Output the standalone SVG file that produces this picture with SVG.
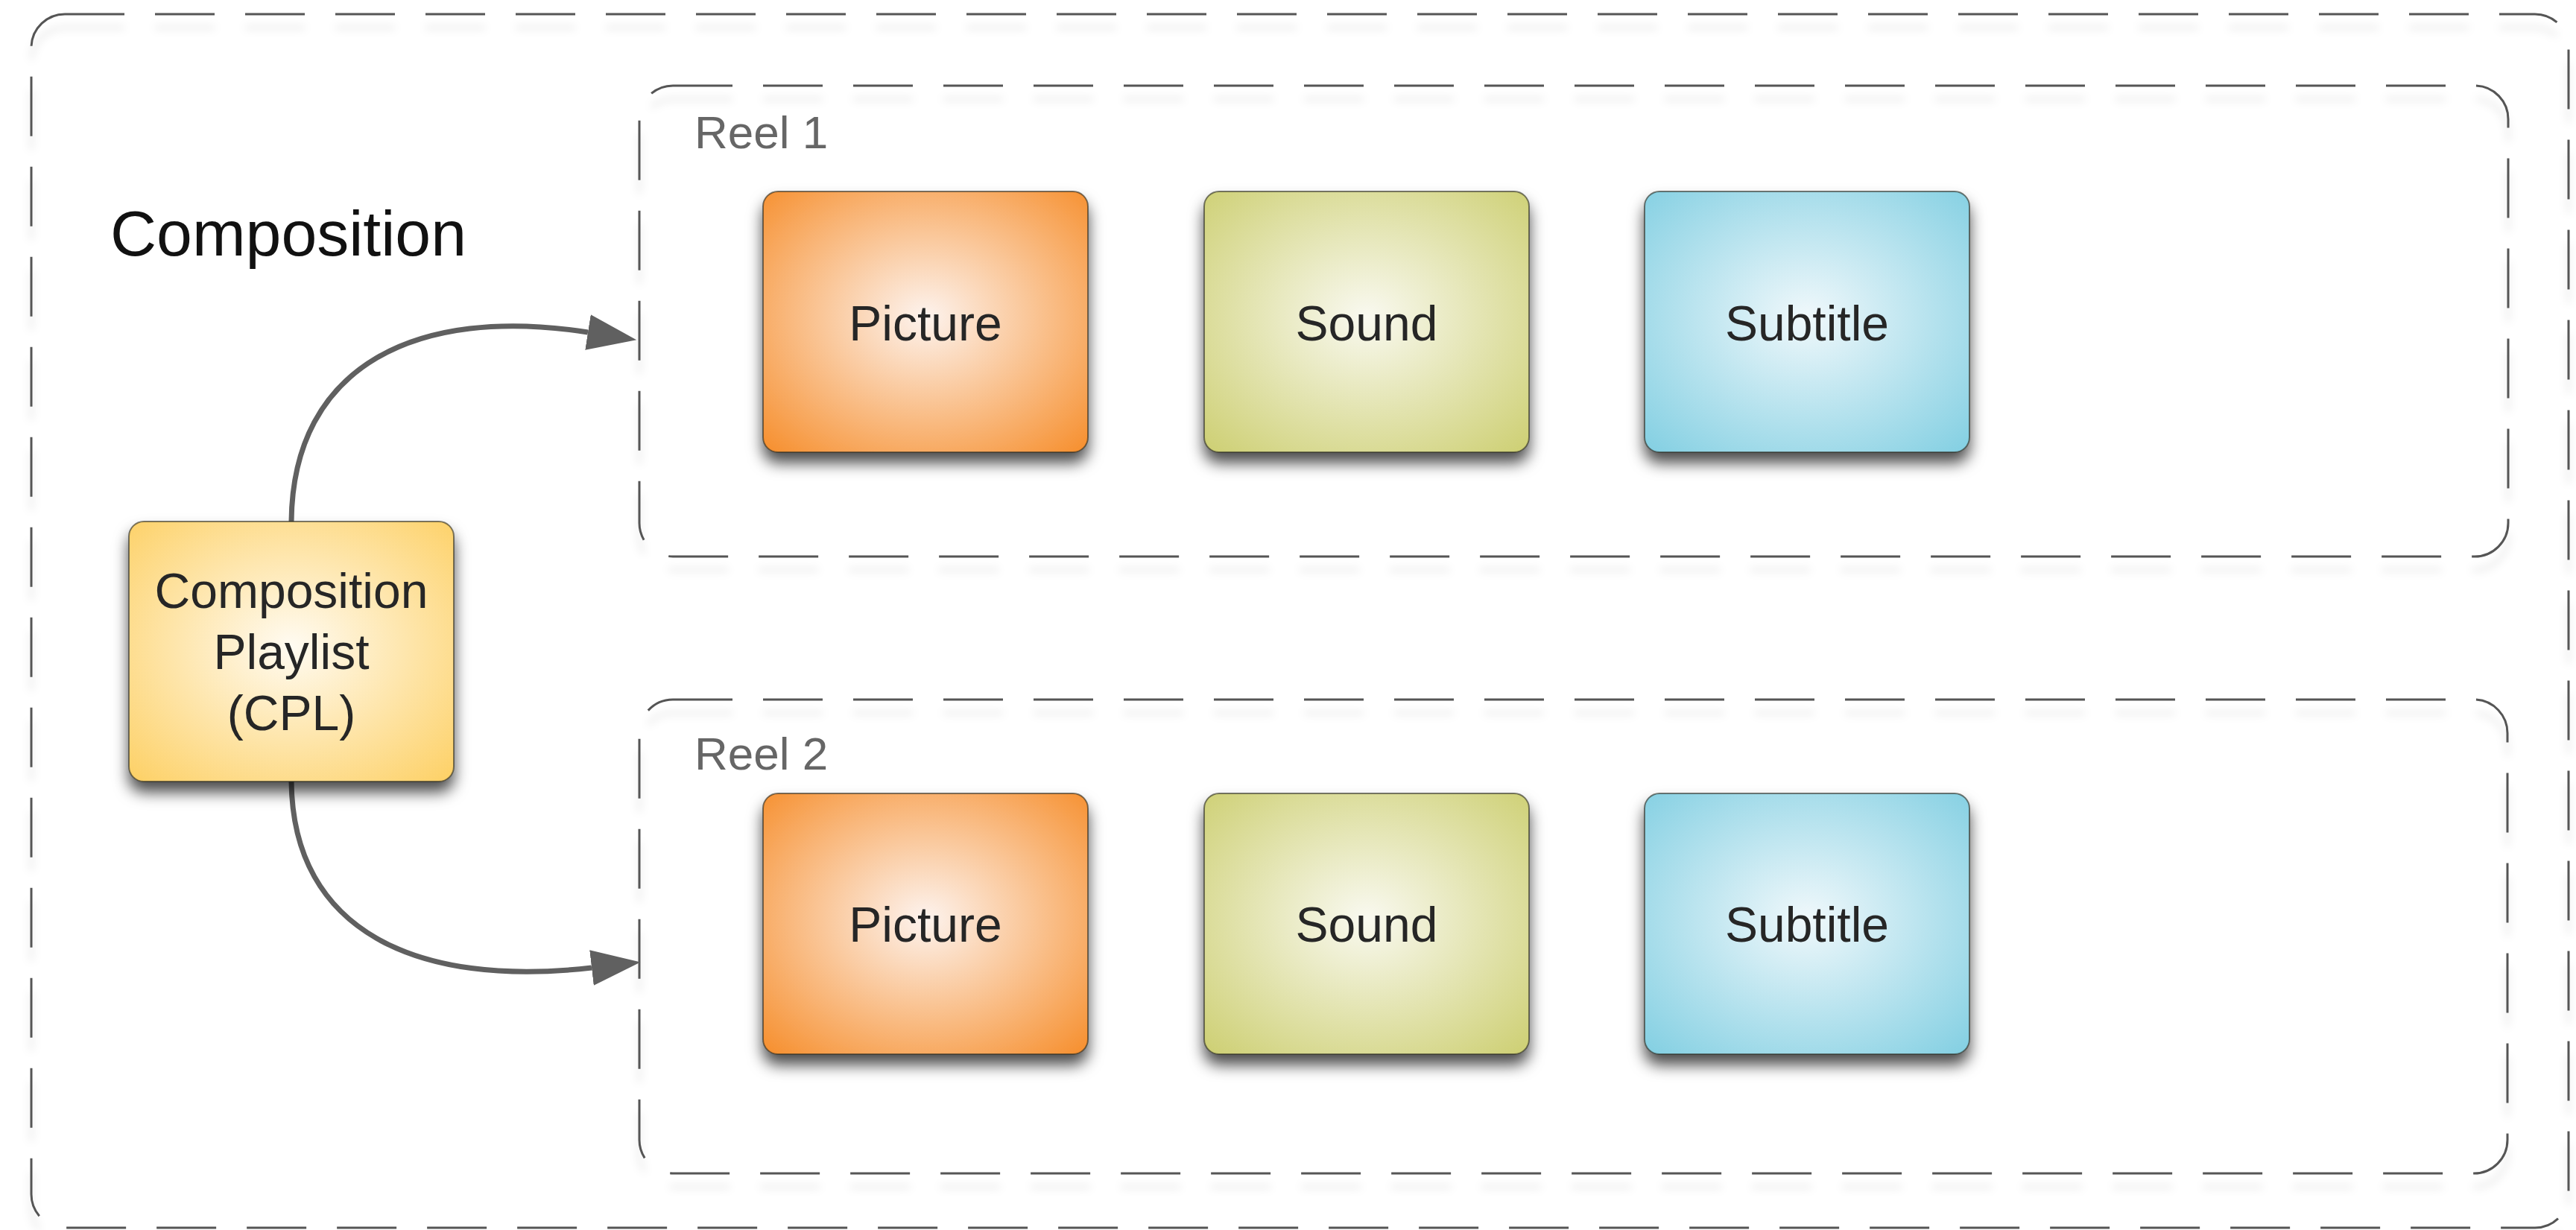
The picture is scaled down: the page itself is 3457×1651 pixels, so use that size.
<svg xmlns="http://www.w3.org/2000/svg" width="3457" height="1651" viewBox="0 0 3457 1651">
  <defs>
    <style>
      .container { fill: none; stroke: #555; stroke-width: 3; stroke-dasharray: 80 41; filter: url(#dashShadow); }
      .node rect { stroke: rgba(40,40,30,0.6); stroke-width: 2; filter: url(#nodeShadow); }
      .nodeText { font-family: "Liberation Sans", Arial, sans-serif; font-size: 66px; fill: #262626; text-anchor: middle; }
      .reelLabel { font-family: "Liberation Sans", Arial, sans-serif; font-size: 62px; fill: #666; }
      .title { font-family: "Liberation Sans", Arial, sans-serif; font-size: 86px; fill: #111; }
      .conn { fill: none; stroke: #606060; stroke-width: 7; marker-end: url(#arrow); }
    </style>
    <filter id="nodeShadow" x="-20%" y="-20%" width="140%" height="150%">
      <feDropShadow dx="0" dy="14" stdDeviation="10" flood-color="#000" flood-opacity="0.7"/>
    </filter>
    <filter id="dashShadow" x="-5%" y="-5%" width="110%" height="115%">
      <feDropShadow dx="0" dy="18" stdDeviation="6" flood-color="#000" flood-opacity="0.14"/>
    </filter>
    <radialGradient id="gPicture" cx="50%" cy="48%" r="72%">
      <stop offset="0" stop-color="#fdf3ee"/>
      <stop offset="1" stop-color="#f68e2c"/>
    </radialGradient>
    <radialGradient id="gSound" cx="50%" cy="48%" r="72%">
      <stop offset="0" stop-color="#f9f9f0"/>
      <stop offset="1" stop-color="#cdcf72"/>
    </radialGradient>
    <radialGradient id="gSubtitle" cx="50%" cy="48%" r="72%">
      <stop offset="0" stop-color="#f0f8fb"/>
      <stop offset="1" stop-color="#82cfe2"/>
    </radialGradient>
    <radialGradient id="gCPL" cx="50%" cy="48%" r="72%">
      <stop offset="0" stop-color="#fffbf2"/>
      <stop offset="1" stop-color="#fdd064"/>
    </radialGradient>
    <marker id="arrow" markerUnits="userSpaceOnUse" markerWidth="80" markerHeight="60" viewBox="0 -30 80 60" refX="0" refY="0" orient="auto">
      <path d="M0,-24 L66,0 L0,24 z" fill="#606060"/>
    </marker>
  </defs>

  <rect width="3457" height="1651" fill="#ffffff"/>

  <g id="composition">
    <rect class="container" x="42" y="19" width="3405" height="1629" rx="45" ry="45"/>
    <text class="title" x="148" y="343">Composition</text>
  </g>

  <g id="reel1">
    <rect class="container" x="858" y="115" width="2508" height="632" rx="45" ry="45"/>
    <text class="reelLabel" x="932" y="199">Reel 1</text>
  </g>

  <g id="reel2">
    <rect class="container" x="858" y="939" width="2507" height="636" rx="45" ry="45"/>
    <text class="reelLabel" x="932" y="1033">Reel 2</text>
  </g>

  <g id="connectors">
    <path class="conn" d="M391,700 C393,490 560,410 789,446"/>
    <path class="conn" d="M391,1049 C393,1250 560,1326 794,1299"/>
  </g>

  <g id="cpl" class="node">
    <rect x="173" y="700" width="436" height="349" rx="20" ry="20" fill="url(#gCPL)"/>
    <text class="nodeText" x="391" y="816">Composition</text>
    <text class="nodeText" x="391" y="898">Playlist</text>
    <text class="nodeText" x="391" y="980">(CPL)</text>
  </g>

  <g id="picture1" class="node">
    <rect x="1024" y="257" width="436" height="350" rx="20" ry="20" fill="url(#gPicture)"/>
    <text class="nodeText" x="1242" y="457">Picture</text>
  </g>
  <g id="sound1" class="node">
    <rect x="1616" y="257" width="436" height="350" rx="20" ry="20" fill="url(#gSound)"/>
    <text class="nodeText" x="1834" y="457">Sound</text>
  </g>
  <g id="subtitle1" class="node">
    <rect x="2207" y="257" width="436" height="350" rx="20" ry="20" fill="url(#gSubtitle)"/>
    <text class="nodeText" x="2425" y="457">Subtitle</text>
  </g>

  <g id="picture2" class="node">
    <rect x="1024" y="1065" width="436" height="350" rx="20" ry="20" fill="url(#gPicture)"/>
    <text class="nodeText" x="1242" y="1264">Picture</text>
  </g>
  <g id="sound2" class="node">
    <rect x="1616" y="1065" width="436" height="350" rx="20" ry="20" fill="url(#gSound)"/>
    <text class="nodeText" x="1834" y="1264">Sound</text>
  </g>
  <g id="subtitle2" class="node">
    <rect x="2207" y="1065" width="436" height="350" rx="20" ry="20" fill="url(#gSubtitle)"/>
    <text class="nodeText" x="2425" y="1264">Subtitle</text>
  </g>
</svg>
